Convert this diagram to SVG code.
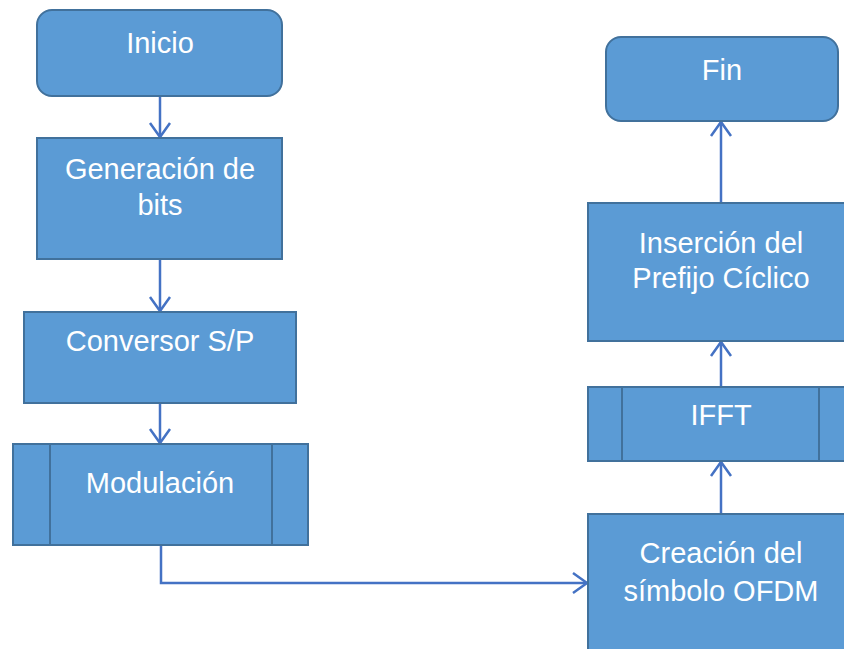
<svg xmlns="http://www.w3.org/2000/svg" width="844" height="649" viewBox="0 0 844 649">
<style>
.box{fill:#5B9BD5;stroke:#41719C;stroke-width:2}
.sub{stroke:#41719C;stroke-width:2;fill:none}
.t{font-family:"Liberation Sans",Arial,sans-serif;font-size:29px;fill:#FFFFFF;text-anchor:middle}
.c{fill:none;stroke:#4472C4;stroke-width:2.5;marker-end:url(#ah)}
</style>
<defs>
<marker id="ah" markerUnits="userSpaceOnUse" viewBox="-16 -12 20 24" refX="0" refY="0" markerWidth="20" markerHeight="24" orient="auto" overflow="visible">
<path d="M-14,-10 L0,0 L-14,10" fill="none" stroke="#4472C4" stroke-width="2.5"/>
</marker>
</defs>
<rect width="844" height="649" fill="#FFFFFF"/>
<g id="connectors">
<line class="c" x1="160" y1="96" x2="160" y2="137"/>
<line class="c" x1="160" y1="260" x2="160" y2="311"/>
<line class="c" x1="160" y1="403" x2="160" y2="443"/>
<polyline class="c" points="161,545 161,583 587,583"/>
<line class="c" x1="721" y1="514" x2="721" y2="462"/>
<line class="c" x1="721" y1="387" x2="721" y2="342"/>
<line class="c" x1="721" y1="203" x2="721" y2="122"/>
</g>
<g id="inicio">
<rect class="box" x="37" y="10" width="245" height="86" rx="15"/>
<text class="t" x="160" y="53">Inicio</text>
</g>
<g id="generacion">
<rect class="box" x="37" y="138" width="245" height="121"/>
<text class="t" x="160" y="179">Generación de</text>
<text class="t" x="160" y="215">bits</text>
</g>
<g id="conversor">
<rect class="box" x="24" y="312" width="272" height="91"/>
<text class="t" x="160" y="351">Conversor S/P</text>
</g>
<g id="modulacion">
<rect class="box" x="13" y="444" width="295" height="101"/>
<line class="sub" x1="50" y1="444" x2="50" y2="545"/>
<line class="sub" x1="272" y1="444" x2="272" y2="545"/>
<text class="t" x="160" y="493">Modulación</text>
</g>
<g id="creacion">
<rect class="box" x="588" y="514" width="266" height="150"/>
<text class="t" x="721" y="563">Creación del</text>
<text class="t" x="721" y="601">símbolo OFDM</text>
</g>
<g id="ifft">
<rect class="box" x="588" y="387" width="266" height="74"/>
<line class="sub" x1="622" y1="387" x2="622" y2="461"/>
<line class="sub" x1="819" y1="387" x2="819" y2="461"/>
<text class="t" x="721" y="425">IFFT</text>
</g>
<g id="insercion">
<rect class="box" x="588" y="203" width="266" height="138"/>
<text class="t" x="721" y="253">Inserción del</text>
<text class="t" x="721" y="288">Prefijo Cíclico</text>
</g>
<g id="fin">
<rect class="box" x="606" y="37" width="232" height="84" rx="15"/>
<text class="t" x="722" y="80">Fin</text>
</g>
</svg>
